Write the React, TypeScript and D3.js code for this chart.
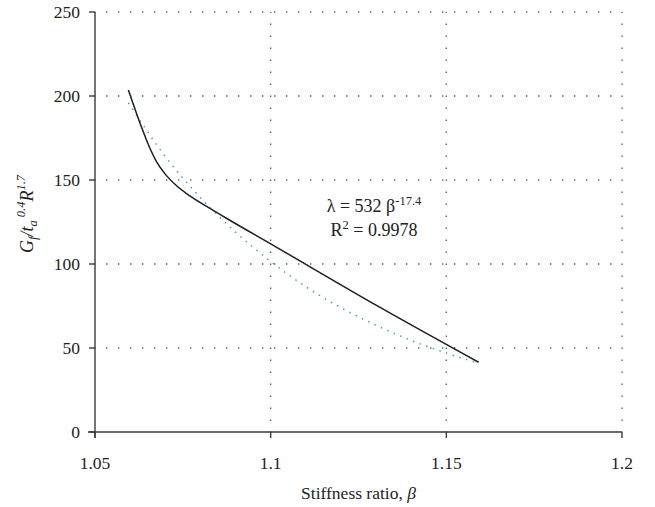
import React from "react";
import * as d3 from "d3";

const xTicks = [1.05, 1.1, 1.15, 1.2];
const yTicks = [0, 50, 100, 150, 200, 250];

// measured curve (solid black)
const measuredX = [1.0595, 1.0615, 1.0635, 1.0655, 1.0675, 1.07, 1.073, 1.077, 1.082, 1.088, 1.1, 1.13, 1.1592];
const measuredY = [203.5, 191.5, 180, 169.5, 161, 153.5, 147, 140.5, 134, 126.5, 112, 75.5, 41.5];

// fitted curve (blue dotted)
const fitX = [1.0595, 1.07, 1.08, 1.09, 1.1, 1.11, 1.12, 1.13, 1.14, 1.15, 1.159];
const fitY = [196, 164, 139.5, 119, 101.5, 86.5, 74, 63.5, 54.5, 47, 41];

const W = 655;
const H = 507;
const M = { left: 95, right: 33, top: 12, bottom: 75 };

export default function App() {
  const x = d3.scaleLinear().domain([1.05, 1.2]).range([M.left, W - M.right]);
  const y = d3.scaleLinear().domain([0, 250]).range([H - M.bottom, M.top]);

  const line = d3
    .line<number>()
    .x((_, i) => x(measuredX[i]))
    .y((d) => y(d))
    .curve(d3.curveMonotoneX);
  const fitLine = d3
    .line<number>()
    .x((_, i) => x(fitX[i]))
    .y((d) => y(d))
    .curve(d3.curveMonotoneX);

  const font = "'Liberation Serif', 'DejaVu Serif', serif";
  const axisColor = "#3a3a3a";
  const gridColor = "#666";
  const x0 = x(1.05);
  const x1 = x(1.2);
  const yb = y(0);
  const yt = y(250);
  const fs = 17.5;

  return (
    <svg width={W} height={H} style={{ position: "absolute", left: 0, top: 0, background: "#fff" }} fontFamily={font}>
      {/* horizontal grid */}
      {yTicks.filter((t) => t > 0).map((t) => (
        <line key={"hg" + t} x1={x0} x2={x1} y1={y(t)} y2={y(t)} stroke={gridColor} strokeWidth={1.4} strokeDasharray="1.4 10.6" strokeDashoffset={-11} />
      ))}
      {/* vertical grid */}
      {xTicks.filter((t) => t > 1.05).map((t) => (
        <line key={"vg" + t} x1={x(t)} x2={x(t)} y1={yb} y2={yt} stroke={gridColor} strokeWidth={1.4} strokeDasharray="1.4 10.6" strokeDashoffset={-11} />
      ))}
      {/* axes */}
      <line x1={x0} x2={x0} y1={yt} y2={yb + 6} stroke={axisColor} strokeWidth={1.4} />
      <line x1={x0 - 7} x2={x1} y1={yb} y2={yb} stroke={axisColor} strokeWidth={1.4} />
      {yTicks.map((t) => (
        <g key={"yt" + t}>
          <line x1={x0 - 6} x2={x0} y1={y(t)} y2={y(t)} stroke={axisColor} strokeWidth={1.4} />
          <text x={x0 - 15} y={y(t)} dy="0.35em" textAnchor="end" fontSize={fs} fill="#222">
            {t}
          </text>
        </g>
      ))}
      {xTicks.map((t) => (
        <g key={"xt" + t}>
          <line x1={x(t)} x2={x(t)} y1={yb} y2={yb + 6} stroke={axisColor} strokeWidth={1.4} />
          <text x={x(t)} y={yb + 37} textAnchor="middle" fontSize={fs} fill="#222">
            {t}
          </text>
        </g>
      ))}
      {/* curves */}
      <path d={fitLine(fitY) || ""} fill="none" stroke="#4a9ad8" strokeWidth={1.5} strokeDasharray="1.5 5.5" />
      <path d={line(measuredY) || ""} fill="none" stroke="#1e1e1e" strokeWidth={1.5} />
      {/* annotation */}
      <text x={374} y={212} textAnchor="middle" fontSize={18} fill="#222">
        λ = 532 β<tspan dy={-7} fontSize={12.5}>-17.4</tspan>
      </text>
      <text x={374} y={236} textAnchor="middle" fontSize={18} fill="#222">
        R<tspan dy={-7} fontSize={12.5}>2</tspan>
        <tspan dy={7}> = 0.9978</tspan>
      </text>
      {/* axis titles */}
      <text x={x((1.05 + 1.2) / 2)} y={499} textAnchor="middle" fontSize={fs} fill="#222">
        Stiffness ratio, <tspan fontStyle="italic">β</tspan>
      </text>
      <text transform="translate(33,214) rotate(-90)" textAnchor="middle" fontSize={18} fontStyle="italic" fill="#222">
        G<tspan dy={4} fontSize={12.5}>f</tspan>
        <tspan dy={-4}>/t</tspan>
        <tspan dy={4} fontSize={12.5}>a</tspan>
        <tspan dy={-12} fontSize={12.5}> 0.4</tspan>
        <tspan dy={8}>R</tspan>
        <tspan dy={-8} fontSize={12.5}>1.7</tspan>
      </text>
    </svg>
  );
}
